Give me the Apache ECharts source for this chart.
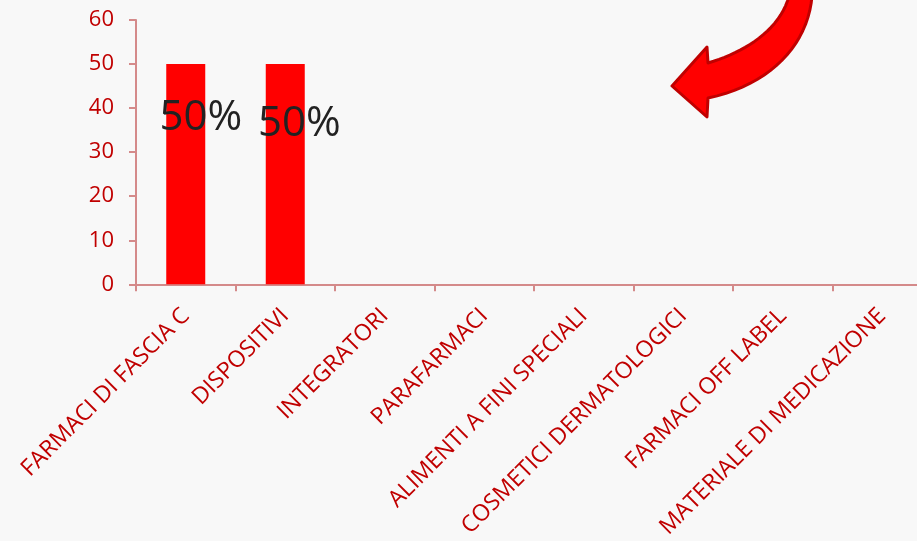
<!DOCTYPE html>
<html>
<head>
<meta charset="utf-8">
<title>ECharts</title>
<script src="https://cdn.jsdelivr.net/npm/echarts@6/dist/echarts.min.js"></script>
<style>
  html, body { margin: 0; padding: 0; background: #f8f8f8; overflow: hidden; }
  /* l'asse x esce oltre il bordo destro, come nell'originale */
  #main { width: 932px; height: 541px; }
</style>
</head>
<body>
<div id="main"></div>
<script type="text/javascript">
    var myChart = echarts.init(document.getElementById('main'));

    // categorie
    var categories = [
        'FARMACI DI FASCIA C', 'DISPOSITIVI', 'INTEGRATORI', 'PARAFARMACI',
        'ALIMENTI A FINI SPECIALI', 'COSMETICI DERMATOLOGICI', 'FARMACI OFF LABEL',
        'MATERIALE DI MEDICAZIONE'
    ];
    // valori (%)
    var values = [50, 50, 0, 0, 0, 0, 0, 0];
    var yTicks = [0, 10, 20, 30, 40, 50, 60];

    var red = '#c00000';
    var axisColor = '#d48a8a';
    var font = '"Open Sans", sans-serif';

    // spostamento delle etichette, come nell'originale
    var labelOffsets = [[15, 0], [14, 6]];

    var seriesData = values.map(function (v, i) {
        var off = labelOffsets[i] || [0, 0];
        return {
            value: v,
            label: { offset: off }
        };
    });

    // freccia curva (decorazione): campiona una bezier cubica
    function bez(p0, p1, p2, p3, n) {
        var pts = [];
        for (var i = 0; i <= n; i++) {
            var t = i / n, u = 1 - t;
            pts.push([
                u*u*u*p0[0] + 3*u*u*t*p1[0] + 3*u*t*t*p2[0] + t*t*t*p3[0],
                u*u*u*p0[1] + 3*u*u*t*p1[1] + 3*u*t*t*p2[1] + t*t*t*p3[1]
            ]);
        }
        return pts;
    }
    var arrowPts = []
        .concat(bez([708, 63], [745, 52], [780, 30], [789, -4], 20))
        .concat(bez([812, -4], [808, 45], [770, 85], [708, 98], 20))
        .concat([[707, 117], [672, 86], [707, 47]]);

    myChart.setOption({
        backgroundColor: '#f8f8f8',
        grid: { left: 136, top: 20, right: 0, bottom: 256, containLabel: false },
        xAxis: {
            type: 'category',
            data: categories,
            axisLine: { lineStyle: { color: axisColor, width: 2 } },
            axisTick: { show: true, length: 7, lineStyle: { color: axisColor, width: 2 } },
            axisLabel: {
                interval: 0,
                rotate: 45,
                margin: 28,
                color: red,
                fontSize: 23,
                fontFamily: font
            }
        },
        yAxis: {
            type: 'value',
            min: yTicks[0],
            max: yTicks[yTicks.length - 1],
            interval: 10,
            splitLine: { show: false },
            axisLine: { show: true, lineStyle: { color: axisColor, width: 2 } },
            axisTick: { show: true, length: 7, lineStyle: { color: axisColor, width: 2 } },
            axisLabel: {
                margin: 22,
                color: red,
                fontSize: 22,
                fontFamily: font
            }
        },
        series: [{
            type: 'bar',
            data: seriesData,
            barWidth: 39,
            itemStyle: { color: '#ff0000' },
            label: {
                show: true,
                position: 'insideTop',
                distance: 33,
                color: '#222222',
                fontSize: 42,
                fontFamily: font,
                formatter: function (p) {
                    return p.value > 0 ? p.value + '%' : '';
                }
            }
        }],
        graphic: [{
            type: 'polygon',
            shape: { points: arrowPts },
            style: { fill: '#ff0000', stroke: '#c00000', lineWidth: 3, lineJoin: 'round' }
        }]
    });
</script>
</body>
</html>
